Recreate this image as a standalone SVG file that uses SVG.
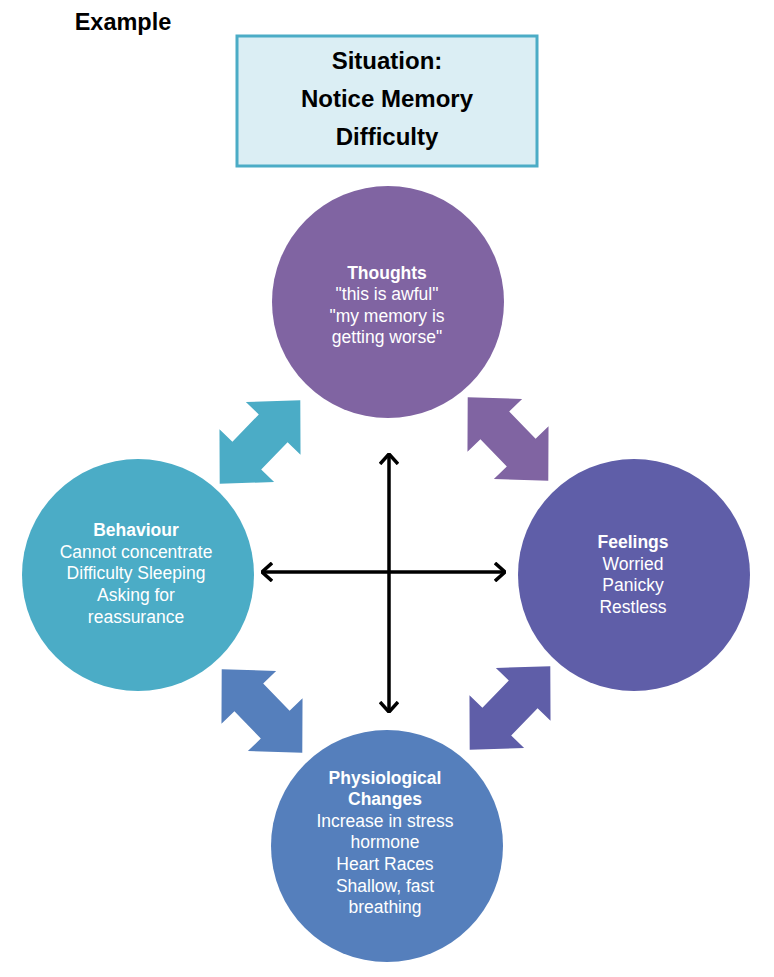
<svg xmlns="http://www.w3.org/2000/svg" width="774" height="977" viewBox="0 0 774 977">
<style>
.t{font-family:"Liberation Sans",Arial,sans-serif;fill:#fff;font-size:17.5px;text-anchor:middle}
.b{font-weight:bold}
.h{font-family:"Liberation Sans",Arial,sans-serif;fill:#000;font-weight:bold;text-anchor:middle;font-size:24px}
.ln{stroke:#000;stroke-width:3.5;fill:none}
</style>
<defs>
<polygon id="dbl" points="-58,0 -19,-38 -19,-20 19,-20 19,-38 58,0 19,38 19,20 -19,20 -19,38"/>
<marker id="ah" viewBox="0 0 12 20" refX="11" refY="10" markerWidth="12" markerHeight="20" markerUnits="userSpaceOnUse" orient="auto">
<polyline points="1,1 11,10 1,19" fill="none" stroke="#000" stroke-width="3.5"/>
</marker>
</defs>
<rect width="774" height="977" fill="#fff"/>
<text x="123" y="30" class="h" style="font-size:23.5px">Example</text>
<g id="situation">
<rect x="237" y="36" width="300" height="130" fill="#dbeef4" stroke="#4bacc6" stroke-width="3"/>
<text x="387" y="69" class="h">Situation:</text>
<text x="387" y="107" class="h">Notice Memory</text>
<text x="387" y="145" class="h">Difficulty</text>
</g>
<g id="thoughts">
<circle cx="388" cy="302" r="116" fill="#8064a2"/>
<text class="t b" x="387" y="279">Thoughts</text>
<text class="t" x="387" y="300">"this is awful"</text>
<text class="t" x="387" y="322">"my memory is</text>
<text class="t" x="387" y="343">getting worse"</text>
</g>
<g id="behaviour">
<circle cx="138" cy="575" r="116" fill="#4bacc6"/>
<text class="t b" x="136" y="536">Behaviour</text>
<text class="t" x="136" y="558">Cannot concentrate</text>
<text class="t" x="136" y="579">Difficulty Sleeping</text>
<text class="t" x="136" y="601">Asking for</text>
<text class="t" x="136" y="623">reassurance</text>
</g>
<g id="feelings">
<circle cx="634" cy="575" r="116" fill="#5f5ea8"/>
<text class="t b" x="633" y="548">Feelings</text>
<text class="t" x="633" y="570">Worried</text>
<text class="t" x="633" y="591">Panicky</text>
<text class="t" x="633" y="613">Restless</text>
</g>
<g id="physiological">
<circle cx="387" cy="846" r="116" fill="#557fbc"/>
<text class="t b" x="385" y="784">Physiological</text>
<text class="t b" x="385" y="805">Changes</text>
<text class="t" x="385" y="827">Increase in stress</text>
<text class="t" x="385" y="848">hormone</text>
<text class="t" x="385" y="870">Heart Races</text>
<text class="t" x="385" y="892">Shallow, fast</text>
<text class="t" x="385" y="913">breathing</text>
</g>
<g id="connectors">
<use href="#dbl" fill="#4bacc6" transform="translate(260,442) rotate(-46)"/>
<use href="#dbl" fill="#8064a2" transform="translate(508,439) rotate(46)"/>
<use href="#dbl" fill="#557fbc" transform="translate(262,711) rotate(46)"/>
<use href="#dbl" fill="#5f5ea8" transform="translate(510,708) rotate(-46)"/>
<line class="ln" x1="389" y1="572" x2="389" y2="454" marker-end="url(#ah)"/>
<line class="ln" x1="389" y1="572" x2="389" y2="712" marker-end="url(#ah)"/>
<line class="ln" x1="389" y1="572" x2="262" y2="572" marker-end="url(#ah)"/>
<line class="ln" x1="389" y1="572" x2="505" y2="572" marker-end="url(#ah)"/>
</g>
</svg>
